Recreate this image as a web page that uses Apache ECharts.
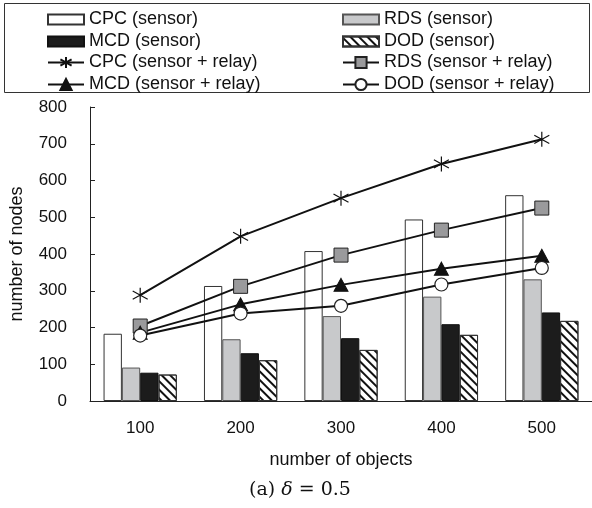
<!DOCTYPE html>
<html><head><meta charset="utf-8">
<script src="https://cdn.jsdelivr.net/npm/echarts@6/dist/echarts.min.js"></script>
<style>html,body{margin:0;padding:0;background:#fff}#c{width:592px;height:508px}</style>
</head><body><div id="c"></div>
<script>
const categories = ['100', '200', '300', '400', '500'];
const cpcSensor = [183, 313, 408, 494, 560];
const rdsSensor = [91, 168, 231, 284, 331];
const mcdSensor = [77, 130, 171, 209, 241];
const dodSensor = [72, 111, 139, 180, 218];
const cpcRelay = [288, 448, 552, 645, 712];
const rdsRelay = [204, 312, 397, 465, 525];
const mcdRelay = [186, 263, 316, 360, 395];
const dodRelay = [178, 238, 259, 317, 362];
const yTicks = [0, 100, 200, 300, 400, 500, 600, 700, 800];

const FONT = '"Liberation Sans", Arial, sans-serif';
const asterisk = 'path://M10,0L10,20M1.5,4.5L18.5,15.5M1.5,15.5L18.5,4.5';

const chart = echarts.init(document.getElementById('c'), null, {renderer: 'canvas'});
const barBase = {type: 'bar', barGap: '0%', barCategoryGap: '27%'};
const lineBase = {type: 'line', z: 5, lineStyle: {color: '#111', width: 2}, symbolSize: 13};
const legendText = {fontSize: 18, fontFamily: FONT, color: '#111'};
function legend(left, top, names, isBar) {
  return {left: left, top: top, padding: 0, orient: 'vertical', itemWidth: 36,
    itemHeight: isBar ? 10 : 14, itemGap: 4, textStyle: legendText,
    data: names.map(n => isBar ? {name: n, icon: 'rect'} : {name: n})};
}

chart.setOption({
  animation: false,
  textStyle: {fontFamily: FONT},
  graphic: [
    {type: 'rect', shape: {x: 4.5, y: 3.5, width: 585, height: 89}, style: {fill: 'none', stroke: '#333', lineWidth: 1}},
    {type: 'text', x: 300, y: 481, style: {
      rich: {
        a: {fontFamily: 'DejaVu Serif', fontSize: 19, fill: '#111'},
        d: {fontFamily: 'DejaVu Serif', fontStyle: 'italic', fontSize: 19, fill: '#111'}
      },
      text: '{a|(a) }{d|δ}{a| = 0.5}', align: 'center'
    }}
  ],
  legend: [
    legend(47, 10.5, ['CPC (sensor)', 'MCD (sensor)'], true),
    legend(47, 53.5, ['CPC (sensor + relay)', 'MCD (sensor + relay)'], false),
    legend(342, 10.5, ['RDS (sensor)', 'DOD (sensor)'], true),
    legend(342, 53.5, ['RDS (sensor + relay)', 'DOD (sensor + relay)'], false)
  ],
  grid: {left: 90, right: 0, top: 107, bottom: 107},
  xAxis: {
    type: 'category', data: categories,
    axisLine: {lineStyle: {color: '#222', width: 1}},
    axisTick: {inside: true, length: 4, lineStyle: {color: '#222'}},
    axisLabel: {fontSize: 17, color: '#111', margin: 19},
    name: 'number of objects', nameLocation: 'middle', nameGap: 50,
    nameTextStyle: {fontSize: 18, color: '#111'}
  },
  yAxis: {
    type: 'value', min: yTicks[0], max: yTicks[yTicks.length - 1], interval: 100,
    axisLine: {show: true, lineStyle: {color: '#222', width: 1}},
    axisTick: {show: true, inside: true, length: 5, lineStyle: {color: '#222'}},
    splitLine: {show: false},
    axisLabel: {fontSize: 17, color: '#111', margin: 23},
    name: 'number of nodes', nameLocation: 'middle', nameGap: 64,
    nameTextStyle: {fontSize: 18, color: '#111'}
  },
  series: [
    Object.assign({}, barBase, {name: 'CPC (sensor)', data: cpcSensor,
      itemStyle: {color: '#fff', borderColor: '#333', borderWidth: 1}}),
    Object.assign({}, barBase, {name: 'RDS (sensor)', data: rdsSensor,
      itemStyle: {color: '#c8c9cb', borderColor: '#555', borderWidth: 1}}),
    Object.assign({}, barBase, {name: 'MCD (sensor)', data: mcdSensor,
      itemStyle: {color: '#1c1c1c', borderColor: '#111', borderWidth: 1}}),
    Object.assign({}, barBase, {name: 'DOD (sensor)', data: dodSensor,
      itemStyle: {color: '#fff', borderColor: '#333', borderWidth: 1,
        decal: {symbol: 'rect', symbolSize: 1, dashArrayX: [1, 0], dashArrayY: [2, 3.5], rotation: Math.PI / 4, color: '#111'}}}),
    Object.assign({}, lineBase, {name: 'CPC (sensor + relay)', data: cpcRelay, symbol: asterisk, symbolSize: 15,
      itemStyle: {color: '#111', borderColor: '#111', borderWidth: 1.2}}),
    Object.assign({}, lineBase, {name: 'RDS (sensor + relay)', data: rdsRelay, symbol: 'rect', symbolSize: 14,
      itemStyle: {color: '#9a9a9c', borderColor: '#222', borderWidth: 1}}),
    Object.assign({}, lineBase, {name: 'MCD (sensor + relay)', data: mcdRelay, symbol: 'triangle', symbolSize: [14, 13],
      itemStyle: {color: '#111', borderColor: '#111', borderWidth: 1}}),
    Object.assign({}, lineBase, {name: 'DOD (sensor + relay)', data: dodRelay, symbol: 'circle', symbolSize: 13,
      itemStyle: {color: '#fff', borderColor: '#222', borderWidth: 1.2}})
  ]
});
</script>
</body></html>
